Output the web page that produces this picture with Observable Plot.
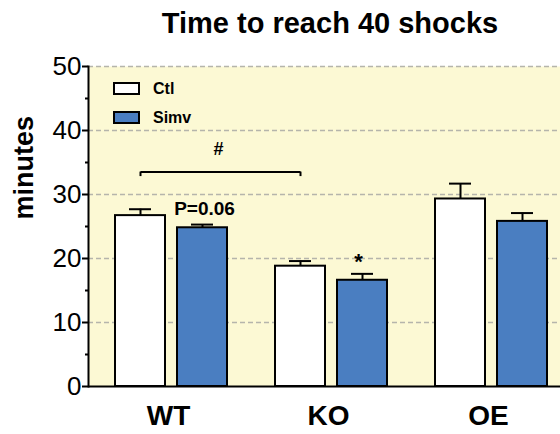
<!DOCTYPE html>
<html>
<head>
<meta charset="utf-8">
<script src="https://cdn.jsdelivr.net/npm/d3@7"></script>
<script src="https://cdn.jsdelivr.net/npm/@observablehq/plot@0.6"></script>
<style>
  html, body { margin: 0; padding: 0; overflow: hidden; background: white; width: 560px; height: 434px; }
  body { position: relative; font-family: "Liberation Sans", Arial, sans-serif; }
  #title { position: absolute; left: 0; width: 660px; top: 9px; text-align: center; font-size: 29px; line-height: 29px; font-weight: bold; color: #000; }
  #chart { position: absolute; left: 0; top: 44px; width: 580px; }
  #chart svg { max-width: none !important; }
  .lg { position: absolute; font-size: 16px; line-height: 16px; font-weight: bold; color: #000; }
  .box { position: absolute; width: 23px; height: 9px; border: 2px solid #000; }
</style>
</head>
<body>
<div id="title">Time to reach 40 shocks</div>
<div id="chart"></div>
<div class="box" style="left:113px; top:82px; background:#ffffff;"></div>
<div class="lg" style="left:153px; top:81px;">Ctl</div>
<div class="box" style="left:113px; top:111px; background:#4a7ec1;"></div>
<div class="lg" style="left:153px; top:110px;">Simv</div>
<script>
const groups = ["WT", "KO", "OE"];
const treatments = ["Ctl", "Simv"];
const ctlMeans = [26.7, 18.8, 29.3];
const ctlErrors = [1.0, 0.8, 2.4];
const simvMeans = [24.8, 16.6, 25.8];
const simvErrors = [0.5, 1.0, 1.3];
const majorTicks = [0, 10, 20, 30, 40, 50];
const minorTicks = [5, 15, 25, 35, 45];
const gridTicks = [10, 20, 30, 40, 50];

const colors = {Ctl: "#ffffff", Simv: "#4a7ec1"};
const data = groups.flatMap((g, i) => [
  {group: g, treatment: treatments[0], mean: ctlMeans[i], err: ctlErrors[i]},
  {group: g, treatment: treatments[1], mean: simvMeans[i], err: simvErrors[i]}
]);
const ctl = data.filter(d => d.treatment === "Ctl");
const simv = data.filter(d => d.treatment === "Simv");

const annotations = {
  bracket: {from: "WT", to: "KO", y: 33.5, yEnd: 32.8},
  hash: {group: "WT", y: 37.1, text: "#"},
  pval: {group: "WT", y: 27.8, text: "P=0.06"},
  star: {group: "KO", y: 19.5, text: "*"}
};

const font = "Liberation Sans, Arial, sans-serif";

const plot = Plot.plot({
  width: 580,
  height: 390,
  marginLeft: 88,
  marginRight: 12,
  marginTop: 22,
  marginBottom: 48,
  style: {fontFamily: font, background: "white", color: "black", overflow: "visible", maxWidth: "none"},
  x: {domain: groups, range: [88, 568], padding: 0, axis: null},
  y: {domain: [0, 50], axis: null},
  marks: [
    Plot.frame({fill: "#fcf9d4", stroke: null}),
    Plot.ruleY(gridTicks, {stroke: "#b5b5ab", strokeWidth: 1.5, strokeDasharray: "5,3"}),
    // error bars
    Plot.ruleX(ctl, {x: "group", y1: "mean", y2: d => d.mean + d.err, dx: -28, stroke: "black", strokeWidth: 2}),
    Plot.ruleX(simv, {x: "group", y1: "mean", y2: d => d.mean + d.err, dx: 34, stroke: "black", strokeWidth: 2}),
    Plot.tickY(ctl, {x: "group", y: d => d.mean + d.err, insetLeft: 41, insetRight: 97, stroke: "black", strokeWidth: 2}),
    Plot.tickY(simv, {x: "group", y: d => d.mean + d.err, insetLeft: 103, insetRight: 35, stroke: "black", strokeWidth: 2}),
    // bars
    Plot.barY(ctl, {x: "group", y: "mean", fill: colors.Ctl, stroke: "black", strokeWidth: 2, insetLeft: 27, insetRight: 83}),
    Plot.barY(simv, {x: "group", y: "mean", fill: colors.Simv, stroke: "black", strokeWidth: 2, insetLeft: 89, insetRight: 21}),
    // axes lines
    Plot.frame({anchor: "left", stroke: "black", strokeWidth: 2}),
    Plot.ruleY([0], {stroke: "black", strokeWidth: 2}),
    Plot.axisY(majorTicks, {tickSize: 6, tickPadding: 1, fontSize: 26, label: null, strokeWidth: 2, color: "black"}),
    Plot.axisY(minorTicks, {tickSize: 3, tickFormat: () => "", label: null, strokeWidth: 2, color: "black"}),
    Plot.axisX({tickSize: 0, tickPadding: 19, fontSize: 28, fontWeight: "bold", label: null, color: "black"}),
    Plot.text(["minutes"], {frameAnchor: "left", rotate: -90, dx: -64, dy: -7, fontSize: 27, fontWeight: "bold", fill: "black"}),
    // annotations
    Plot.link([annotations.bracket], {x1: "from", x2: "to", y1: "y", y2: "y", dx: -28, stroke: "black", strokeWidth: 2}),
    Plot.ruleX([annotations.bracket.from, annotations.bracket.to], {x: d => d, y1: annotations.bracket.yEnd, y2: annotations.bracket.y, dx: -28, stroke: "black", strokeWidth: 2}),
    Plot.text([annotations.hash], {x: "group", y: "y", text: "text", dx: 50, fontSize: 18, fontWeight: "bold", fill: "black"}),
    Plot.text([annotations.pval], {x: "group", y: "y", text: "text", dx: 36, fontSize: 19, fontWeight: "bold", fill: "black"}),
    Plot.text([annotations.star], {x: "group", y: "y", text: "text", dx: 30, fontSize: 22, fontWeight: "bold", fill: "black"})
  ]
});
document.getElementById("chart").appendChild(plot);
</script>
</body>
</html>
